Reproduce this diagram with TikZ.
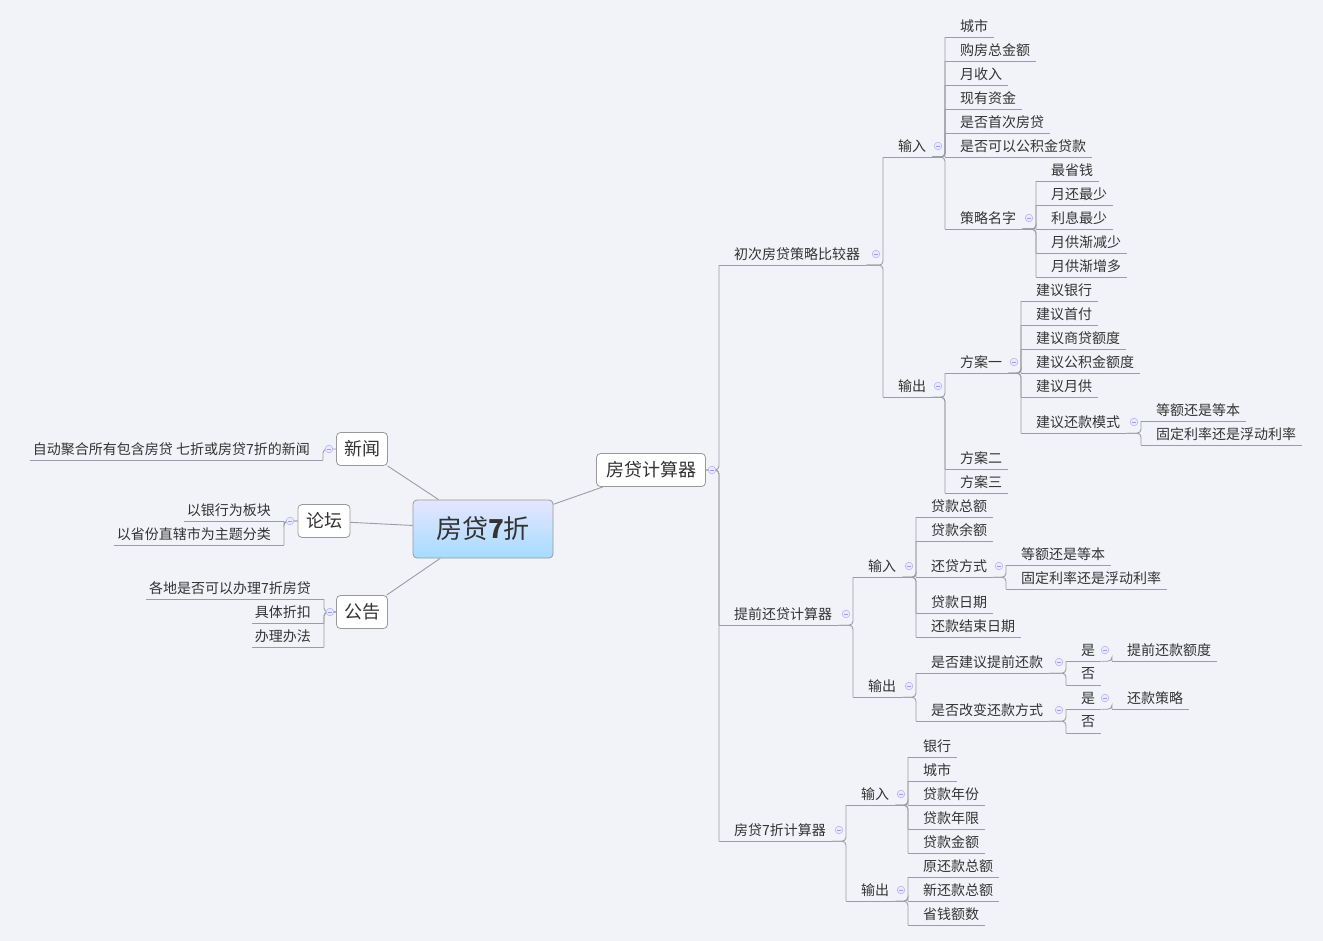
\documentclass[tikz,border=0pt]{standalone}
\usepackage{fontspec}
\setmainfont{Noto Sans CJK SC}
\definecolor{bg}{HTML}{F1F3F8}
\definecolor{lc}{HTML}{9A9DA3}
\begin{document}
\begin{tikzpicture}[x=1pt,y=-1pt,
 ln/.style={draw=lc,line width=0.9pt,rounded corners=4pt},
 leaf/.style={inner sep=0pt,minimum height=22pt,font=\fontsize{14}{15}\selectfont,text=black!80,
   append after command={(\tikzlastnode.south west) edge[draw=lc,line width=0.9pt] (\tikzlastnode.south east)}},
 box/.style={draw=black!40,line width=0.8pt,rounded corners=4pt,fill=white,font=\fontsize{18}{19}\selectfont,text=black!80,inner sep=0pt,minimum height=33pt},
 ico/.style={draw=blue!30,fill=blue!8,line width=0.6pt}]
\useasboundingbox[fill=bg] (0,0) rectangle (1323,941);
\newcommand\RL[4]{\node[leaf,anchor=west] (#1) at (#2,#3) {\kern15pt#4\kern6pt};}
\newcommand\LL[4]{\node[leaf,anchor=east] (#1) at (#2,#3) {\kern3pt#4\kern13pt};}
\newcommand\cn[2]{\foreach \c in {#2}{\draw[ln] (#1.south east) -| (\c.south west);}}
\newcommand\ic[2]{\draw[ico] (#1,#2) circle (3.8pt); \draw[blue!40,line width=0.6pt] (#1-2,#2) -- (#1+2,#2);}
% boxes
\node[box,minimum width=140pt,minimum height=58pt,top color=blue!10!white,bottom color=blue!40!cyan!35!white,draw=black!40,font=\fontsize{26}{27}\selectfont] (root) at (483,529) {房贷\textbf{7}折};
\node[box,minimum width=109pt] (calc) at (651,470) {房贷计算器};
\node[box,minimum width=51pt] (news) at (362,449) {新闻};
\node[box,minimum width=52pt] (forum) at (324,521) {论坛};
\node[box,minimum width=51pt] (notice) at (362,612) {公告};
\draw[ln] (root) -- (calc); \draw[ln] (root) -- (news); \draw[ln] (root) -- (forum); \draw[ln] (root) -- (notice);
% left
\LL{nw1}{323}{449}{自动聚合所有包含房贷 七折或房贷7折的新闻}
\LL{fo1}{284}{510}{以银行为板块}
\LL{fo2}{284}{534}{以省份直辖市为主题分类}
\LL{no1}{324}{588}{各地是否可以办理7折房贷}
\LL{no2}{324}{612}{具体折扣}
\LL{no3}{324}{636}{办理办法}
\foreach \c in {nw1}{\draw[ln] (news.west) -| (\c.south east);}
\foreach \c in {fo1,fo2}{\draw[ln] (forum.west) -| (\c.south east);}
\foreach \c in {no1,no2,no3}{\draw[ln] (notice.west) -| (\c.south east);}
% right level 1
\RL{c1}{719}{254}{初次房贷策略比较器}
\RL{c2}{719}{614}{提前还贷计算器}
\RL{c3}{719}{830}{房贷7折计算器}
\foreach \c in {c1,c2,c3}{\draw[ln] (calc.east) -| (\c.south west);}
% c1
\RL{a1}{883}{146}{输入}
\RL{a2}{883}{386}{输出}
\cn{c1}{a1,a2}
\RL{b1}{945}{26}{城市}
\RL{b2}{945}{50}{购房总金额}
\RL{b3}{945}{74}{月收入}
\RL{b4}{945}{98}{现有资金}
\RL{b5}{945}{122}{是否首次房贷}
\RL{b6}{945}{146}{是否可以公积金贷款}
\RL{b7}{945}{218}{策略名字}
\cn{a1}{b1,b2,b3,b4,b5,b6,b7}
\RL{d1}{1036}{170}{最省钱}
\RL{d2}{1036}{194}{月还最少}
\RL{d3}{1036}{218}{利息最少}
\RL{d4}{1036}{242}{月供渐减少}
\RL{d5}{1036}{266}{月供渐增多}
\cn{b7}{d1,d2,d3,d4,d5}
\RL{e1}{945}{362}{方案一}
\RL{e2}{945}{458}{方案二}
\RL{e3}{945}{482}{方案三}
\cn{a2}{e1,e2,e3}
\RL{f1}{1021}{290}{建议银行}
\RL{f2}{1021}{314}{建议首付}
\RL{f3}{1021}{338}{建议商贷额度}
\RL{f4}{1021}{362}{建议公积金额度}
\RL{f5}{1021}{386}{建议月供}
\RL{f6}{1021}{422}{建议还款模式}
\cn{e1}{f1,f2,f3,f4,f5,f6}
\RL{g1}{1141}{410}{等额还是等本}
\RL{g2}{1141}{434}{固定利率还是浮动利率}
\cn{f6}{g1,g2}
% c2
\RL{h1}{853}{566}{输入}
\RL{h2}{853}{686}{输出}
\cn{c2}{h1,h2}
\RL{i1}{916}{506}{贷款总额}
\RL{i2}{916}{530}{贷款余额}
\RL{i3}{916}{566}{还贷方式}
\RL{i4}{916}{602}{贷款日期}
\RL{i5}{916}{626}{还款结束日期}
\cn{h1}{i1,i2,i3,i4,i5}
\RL{j1}{1006}{554}{等额还是等本}
\RL{j2}{1006}{578}{固定利率还是浮动利率}
\cn{i3}{j1,j2}
\RL{k1}{916}{662}{是否建议提前还款}
\RL{k2}{916}{710}{是否改变还款方式}
\cn{h2}{k1,k2}
\RL{l1}{1066}{650}{是}
\RL{l2}{1066}{674}{否}
\cn{k1}{l1,l2}
\RL{l3}{1066}{698}{是}
\RL{l4}{1066}{722}{否}
\cn{k2}{l3,l4}
\RL{m1}{1112}{650}{提前还款额度}
\cn{l1}{m1}
\RL{m2}{1112}{698}{还款策略}
\cn{l3}{m2}
% c3
\RL{n1}{846}{794}{输入}
\RL{n2}{846}{890}{输出}
\cn{c3}{n1,n2}
\RL{o1}{908}{746}{银行}
\RL{o2}{908}{770}{城市}
\RL{o3}{908}{794}{贷款年份}
\RL{o4}{908}{818}{贷款年限}
\RL{o5}{908}{842}{贷款金额}
\cn{n1}{o1,o2,o3,o4,o5}
\RL{p1}{908}{866}{原还款总额}
\RL{p2}{908}{890}{新还款总额}
\RL{p3}{908}{914}{省钱额数}
\cn{n2}{p1,p2,p3}
% collapse icons
\ic{712}{470}\ic{329}{449}\ic{290}{521}\ic{330}{612}
\ic{876}{254}\ic{938}{146}\ic{938}{386}\ic{1029}{218}\ic{1014}{362}\ic{1134}{422}
\ic{846}{614}\ic{909}{566}\ic{909}{686}\ic{999}{566}\ic{1059}{662}\ic{1059}{710}
\ic{1105}{650}\ic{1105}{698}\ic{839}{830}\ic{901}{794}\ic{901}{890}
\end{tikzpicture}
\end{document}
